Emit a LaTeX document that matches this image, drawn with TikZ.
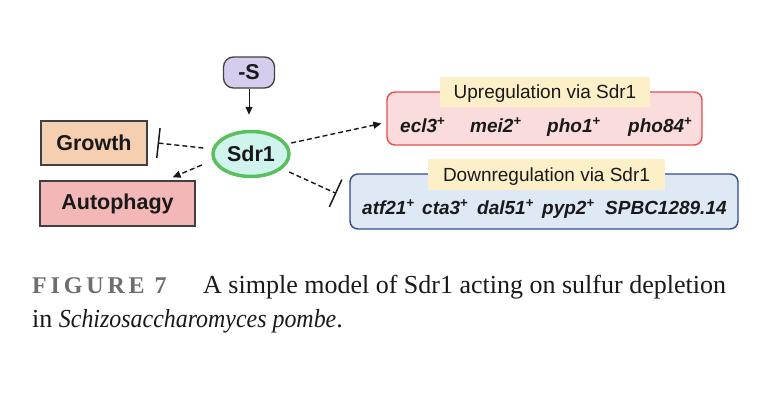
\documentclass[tikz,border=0pt]{standalone}
\usepackage{fontspec}
\setmainfont{Liberation Serif}
\newfontfamily\arialf{Liberation Sans}
\usetikzlibrary{arrows.meta,shapes.geometric}
\definecolor{sfill}{RGB}{214,204,238}
\definecolor{sdrfill}{RGB}{208,243,238}
\definecolor{sdrborder}{RGB}{88,192,92}
\definecolor{growthfill}{RGB}{246,206,176}
\definecolor{autofill}{RGB}{243,183,183}
\definecolor{boxborder}{RGB}{64,64,64}
\definecolor{upfill}{RGB}{250,220,220}
\definecolor{upborder}{RGB}{232,76,76}
\definecolor{downfill}{RGB}{222,233,245}
\definecolor{downborder}{RGB}{47,76,140}
\definecolor{titlefill}{RGB}{253,240,200}
\definecolor{capgray}{RGB}{110,110,110}
\definecolor{txt}{RGB}{25,25,25}
\newcommand{\gene}[1]{{\itshape #1}\textsuperscript{+}}
\begin{document}
\begin{tikzpicture}[x=1pt,y=-1pt,
  box/.style={draw=boxborder, line width=1.3pt, inner sep=0pt, text=txt,
    font=\arialf\bfseries\fontsize{21.5}{24}\selectfont},
  group/.style={line width=1.4pt, rounded corners=8pt, inner sep=0pt},
  grouptitle/.style={fill=titlefill, inner sep=0pt, text=txt, text height=13.7pt, text depth=0pt,
    font=\arialf\fontsize{19}{22}\selectfont},
  genetext/.style={anchor=base west, inner sep=0pt, text=txt,
    font=\arialf\bfseries\fontsize{19}{22}\selectfont},
  dashedlink/.style={dash pattern=on 5pt off 3pt, line width=1.4pt, draw=txt},
  act/.style={dashedlink, -{Triangle[length=8pt,width=7pt]}},
  inh/.style={dashedlink, -{Bar[width=30pt,line width=1.5pt]}},
  captxt/.style={anchor=base west, inner sep=0pt, text=txt}
]
\useasboundingbox (0,0) rectangle (768,418);
\fill[white] (0,0) rectangle (768,418);

% nodes
\node[box, fill=sfill, rounded corners=10pt, minimum width=51pt, minimum height=31pt] (s) at (249,72.5) {-S};
\node[box, ellipse, draw=sdrborder, fill=sdrfill, line width=3.5pt, minimum width=76pt, minimum height=45pt, inner sep=0pt] (sdr) at (251,154) {Sdr1};
\node[box, fill=growthfill, minimum width=106pt, minimum height=44pt] (growth) at (94,143) {Growth};
\node[box, fill=autofill, minimum width=155pt, minimum height=45pt] (auto) at (117.5,203.5) {Autophagy};

\node[group, draw=upborder, fill=upfill, minimum width=315pt, minimum height=53pt] (up) at (544.5,118.5) {};
\node[grouptitle, minimum width=210pt, minimum height=30pt] (uptitle) at (545,92) {Upregulation via Sdr1};
\node[genetext] (g1) at (400,132) {\gene{ecl3}};
\node[genetext] (g2) at (470,132) {\gene{mei2}};
\node[genetext] (g3) at (547,132) {\gene{pho1}};
\node[genetext] (g4) at (628,132) {\gene{pho84}};

\node[group, draw=downborder, fill=downfill, minimum width=388pt, minimum height=55pt] (down) at (544,201.5) {};
\node[grouptitle, minimum width=237pt, minimum height=31pt] (downtitle) at (546.5,174.5) {Downregulation via Sdr1};
\node[genetext] (h1) at (362,214) {\gene{atf21}};
\node[genetext] (h2) at (422,214) {\gene{cta3}};
\node[genetext] (h3) at (477,214) {\gene{dal51}};
\node[genetext] (h4) at (542,214) {\gene{pyp2}};
\node[genetext] (h5) at (605,214) {\itshape SPBC1289.14};

% connectors
\draw[line width=1pt, draw=txt, -{Triangle[length=8pt,width=7pt]}] (s.south) -- ([yshift=15pt]s.south |- sdr.north);
\draw[inh] ([shift={(-8,-6)}]sdr.west) -- ([shift={(10,0)}]growth.east);
\draw[act] ([shift={(-9.5,11)}]sdr.west) -- ([shift={(-23,-3)}]auto.north east);
\draw[act] ([shift={(0.5,-11)}]sdr.east) -- ([shift={(-5,5)}]up.west);
\draw[inh] ([shift={(-1.5,18)}]sdr.east) -- ([shift={(-13,-8)}]down.west);

% caption
\node[anchor=base west, inner sep=0pt, text=capgray, font=\bfseries\fontsize{24}{28}\selectfont\addfontfeatures{LetterSpace=16}] (figlabel) at (32,293) {FIGURE 7};
\node[captxt, font=\fontsize{26}{30}\selectfont] (cap1) at (203,293) {A simple model of Sdr1 acting on sulfur depletion};
\node[captxt, font=\fontsize{26}{30}\selectfont] (cap2) at (32,327.5) {in {\itshape\addfontfeatures{FakeStretch=0.92}Schizosaccharomyces pombe}.};
\end{tikzpicture}
\end{document}
